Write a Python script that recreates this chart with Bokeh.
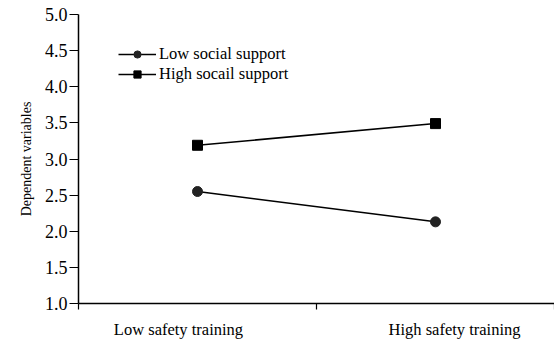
from bokeh.plotting import figure
from bokeh.models import (FixedTicker, LinearAxis, Range1d, Legend, LegendItem)
from bokeh.embed import file_html
from bokeh.resources import INLINE

categories = ["Low safety training", "High safety training"]
low_support = [2.55, 2.13]
high_support = [3.19, 3.49]
series_names = ["Low social support", "High socail support"]
y_ticks = [1.0, 1.5, 2.0, 2.5, 3.0, 3.5, 4.0, 4.5, 5.0]

FONT = "Liberation Serif"
x_pos = [i + 0.5 for i in range(len(categories))]
label_pos = [x_pos[0] - 0.08, x_pos[1] + 0.08]

p = figure(width=554, height=341, output_backend="svg", toolbar_location=None,
           x_range=Range1d(0, 2), y_range=Range1d(1, 5),
           min_border_left=78, min_border_right=0, min_border_top=14, min_border_bottom=38)
p.outline_line_color = None
p.xgrid.visible = False
p.ygrid.visible = False
p.background_fill_color = "white"
p.border_fill_color = "white"

# y axis
ya = p.yaxis[0]
ya.ticker = FixedTicker(ticks=y_ticks)
ya.major_label_overrides = {t: f"{t:.1f}" for t in y_ticks}
ya.minor_tick_line_color = None
ya.major_tick_out = 9
ya.major_tick_in = 0
ya.major_label_standoff = 2
ya.axis_line_width = 1.5
ya.major_tick_line_width = 1.2
ya.axis_line_color = "black"
ya.major_label_text_font = FONT
ya.major_label_text_font_size = "18px"
ya.major_label_text_color = "black"
ya.axis_label = "Dependent variables"
ya.axis_label_text_font = FONT
ya.axis_label_text_font_size = "14px"
ya.axis_label_text_font_style = "normal"
ya.axis_label_standoff = 8
ya.axis_label_text_color = "black"

# x axis with tick marks only
xa = p.xaxis[0]
xa.ticker = FixedTicker(ticks=[0, 1, 2])
xa.major_label_overrides = {0: "", 1: "", 2: ""}
xa.major_label_text_font_size = "0px"
xa.major_label_standoff = 0
xa.minor_tick_line_color = None
xa.major_tick_out = 6
xa.major_tick_in = 0
xa.axis_line_width = 1.5
xa.major_tick_line_width = 1.2
xa.axis_line_color = "black"

# x axis with category labels
xl = LinearAxis(ticker=FixedTicker(ticks=label_pos),
                major_label_overrides={label_pos[i]: categories[i] for i in range(len(categories))})
xl.axis_line_color = None
xl.major_tick_line_color = None
xl.minor_tick_line_color = None
xl.major_tick_out = 0
xl.major_tick_in = 0
xl.major_label_standoff = 10
xl.major_label_text_font = FONT
xl.major_label_text_font_size = "16.5px"
xl.major_label_text_color = "black"
p.add_layout(xl, "below")

l1 = p.line(x_pos, low_support, line_color="black", line_width=1.5)
s1 = p.scatter(x_pos, low_support, marker="circle", size=10, fill_color="#222222", line_color="#222222")
l2 = p.line(x_pos, high_support, line_color="black", line_width=1.5)
s2 = p.scatter(x_pos, high_support, marker="square", size=10, fill_color="black", line_color="black")

legend = Legend(items=[LegendItem(label=series_names[0], renderers=[l1, s1]),
                       LegendItem(label=series_names[1], renderers=[l2, s2])],
                location=(40, 219), orientation="vertical")
legend.border_line_color = None
legend.background_fill_alpha = 0
legend.padding = 0
legend.margin = 0
legend.spacing = 0
legend.glyph_width = 38
legend.glyph_height = 18
legend.label_height = 18
legend.label_standoff = 3
legend.label_text_font = FONT
legend.label_text_font_size = "16.5px"
legend.label_text_line_height = 1.0
legend.label_text_color = "black"
p.add_layout(legend)

open("out.html", "w").write(file_html(p, INLINE))
